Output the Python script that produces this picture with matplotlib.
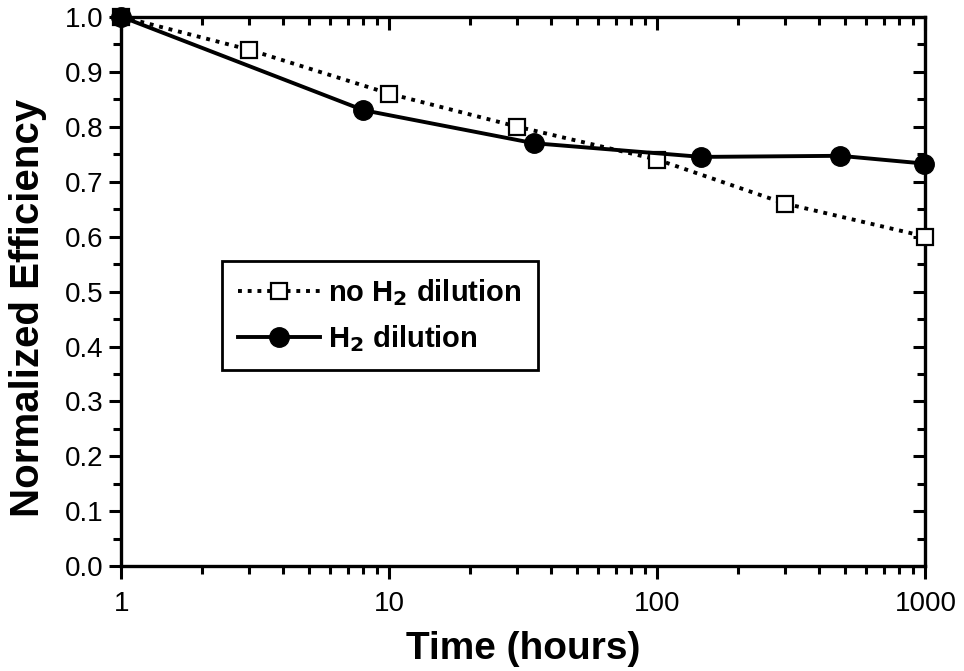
import matplotlib
matplotlib.use("Agg")
import matplotlib.pyplot as plt
from matplotlib.ticker import FixedLocator, LogLocator, NullFormatter, MultipleLocator

plt.rcParams['font.family'] = ['Liberation Sans', 'DejaVu Sans']

# Data
hours_no_h2 = [1, 3, 10, 30, 100, 300, 1000]
eff_no_h2 = [1.0, 0.94, 0.86, 0.80, 0.74, 0.66, 0.60]

hours_h2 = [1, 8, 34.5, 146, 480, 985]
eff_h2 = [1.0, 0.83, 0.77, 0.745, 0.747, 0.733]

x_ticks = [1, 10, 100, 1000]
x_labels = ['1', '10', '100', '1000']
y_ticks = [0.0, 0.1, 0.2, 0.3, 0.4, 0.5, 0.6, 0.7, 0.8, 0.9, 1.0]

fig = plt.figure(figsize=(9.64, 6.71), dpi=100)
ax = fig.add_axes([0.126, 0.156, 0.834, 0.819])

ax.plot(hours_no_h2, eff_no_h2, color='black', linestyle=(0, (1, 1.5)), linewidth=2.8,
        marker='s', markersize=11.5, markerfacecolor='white', markeredgecolor='black',
        markeredgewidth=1.6, label='no H$_\\mathbf{2}$ dilution', zorder=3, clip_on=False)
ax.plot(hours_h2, eff_h2, color='black', linestyle='-', linewidth=2.8,
        marker='o', markersize=14, markerfacecolor='black', markeredgecolor='black',
        label='H$_\\mathbf{2}$ dilution', zorder=4, clip_on=False)

ax.set_xscale('log')
ax.set_xlim(1, 1000)
ax.set_ylim(0, 1.0)
ax.xaxis.set_major_locator(FixedLocator(x_ticks))
ax.set_xticklabels(x_labels)
ax.xaxis.set_minor_locator(LogLocator(base=10, subs=range(2, 10)))
ax.xaxis.set_minor_formatter(NullFormatter())
ax.yaxis.set_major_locator(FixedLocator(y_ticks))
ax.set_yticklabels(['%.1f' % v for v in y_ticks])
ax.yaxis.set_minor_locator(MultipleLocator(0.05))

for s in ax.spines.values():
    s.set_linewidth(2.4)

ax.tick_params(axis='both', which='both', top=True, right=True, labelsize=20, width=2.2)
ax.tick_params(axis='x', which='major', length=9, pad=9)
ax.tick_params(axis='x', which='minor', length=6)
ax.tick_params(axis='y', which='major', length=9, pad=4)
ax.tick_params(axis='y', which='minor', length=6)
ax.tick_params(axis='both', which='both', direction='out')
# mirrored ticks on top/right point into the plot
for t in ax.xaxis.get_major_ticks() + ax.xaxis.get_minor_ticks():
    t.tick2line.set_marker(matplotlib.lines.TICKDOWN)
for t in ax.yaxis.get_major_ticks() + ax.yaxis.get_minor_ticks():
    t.tick2line.set_marker(matplotlib.lines.TICKLEFT)

ax.set_xlabel('Time (hours)', fontsize=28, fontweight='bold', labelpad=10)
ax.set_ylabel('Normalized Efficiency', fontsize=29, fontweight='bold')
ax.yaxis.set_label_coords(-0.092, 0.47)

leg = ax.legend(loc='upper left', bbox_to_anchor=(0.125, 0.556), fancybox=False,
                edgecolor='black', framealpha=1, handlelength=2.8, handletextpad=0.3,
                borderpad=0.55, labelspacing=0.55, borderaxespad=0,
                prop={'weight': 'bold', 'size': 21})
leg.get_frame().set_linewidth(2.0)

fig.savefig('out.png', dpi=100)
